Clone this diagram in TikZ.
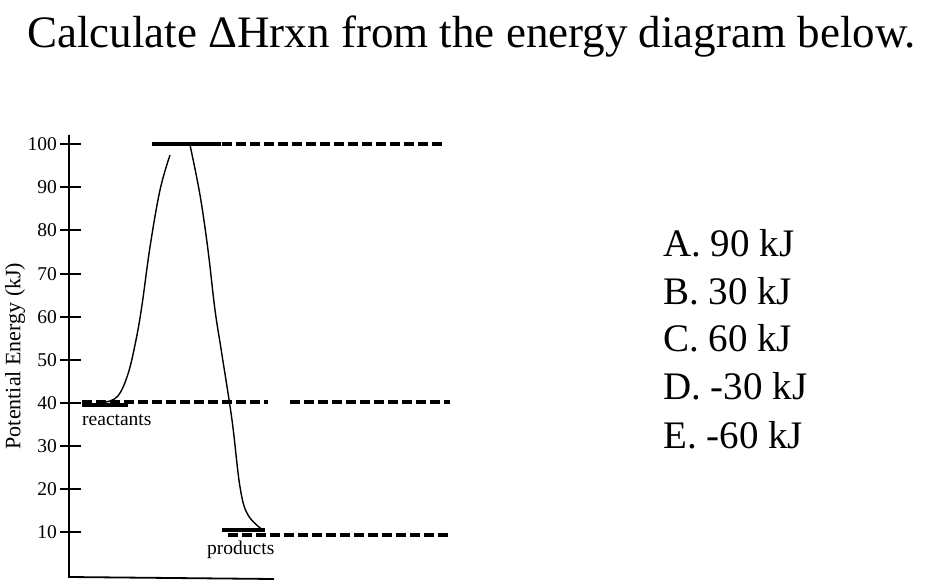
\documentclass[tikz,border=0pt]{standalone}
\usepackage{fontspec}
\setmainfont{Liberation Serif}
\begin{document}
\begin{tikzpicture}[x=1pt,y=-1pt,
  axisline/.style={line width=1.8pt},
  tickline/.style={line width=1.5pt},
  levelbar/.style={line width=4.5pt},
  leveldash/.style={line width=3.8pt, dash pattern=on 10pt off 4pt},
  ticklab/.style={anchor=east, inner sep=0pt, font=\fontsize{19.5}{19.5}\selectfont},
  smalllab/.style={anchor=north west, inner sep=0pt, font=\fontsize{19.5}{19.5}\selectfont},
  answer/.style={anchor=west, inner sep=0pt, font=\fontsize{39}{39}\selectfont}]
\useasboundingbox (0,0) rectangle (943,588);
\fill[white] (0,0) rectangle (943,588);
% title
\node[anchor=base west, inner sep=0pt, font=\fontsize{45}{45}\selectfont] (title) at (27,48) {Calculate ΔHrxn from the energy diagram below.};
% axes
\coordinate (ytop) at (69,135);
\coordinate (origin) at (69,577);
\coordinate (xend) at (274,579);
\draw[axisline] (ytop) -- (origin) -- (xend);
% ticks and labels
\foreach \v/\y in {100/144,90/187,80/230,70/274,60/317,50/360,40/403,30/446,20/489,10/532}{
  \draw[tickline] (60,\y) -- (81,\y);
  \node[ticklab] (t\v) at (57,\y) {\v};
}
\node[rotate=90, inner sep=0pt, font=\fontsize{22}{22}\selectfont] (ylab) at (15,356) {Potential Energy (kJ)};
% levels
\draw[levelbar] (152,144) -- (221,144);
\draw[leveldash] (152,144) -- (445,144);
\draw[levelbar] (82,405) -- (128,405);
\draw[leveldash] (82,402) -- (268,402);
\draw[leveldash] (290,402) -- (450,402);
\draw[levelbar] (222,530) -- (265,530);
\draw[leveldash] (228,535) -- (448,535);
% curve
\draw[line width=1.4pt] plot[smooth, tension=0.6] coordinates {(106,402) (118,396) (128,374) (136,340) (142,305) (150,247) (160,190) (170,155)};
\draw[line width=1.4pt] plot[smooth, tension=0.6] coordinates {(190,145) (200,195) (208,250) (215,310) (222,355) (232,420) (240,487) (248,515) (264,531)};
% labels
\node[smalllab] (react) at (82,414) {reactants};
\node[smalllab] (prod) at (207,541) {products};
% answers
\node[answer] (a) at (663,243) {A.\ 90 kJ};
\node[answer] (b) at (663,291) {B.\ 30 kJ};
\node[answer] (c) at (663,338) {C.\ 60 kJ};
\node[answer] (d) at (663,386) {D.\ -30 kJ};
\node[answer] (e) at (663,435) {E.\ -60 kJ};
\end{tikzpicture}
\end{document}
